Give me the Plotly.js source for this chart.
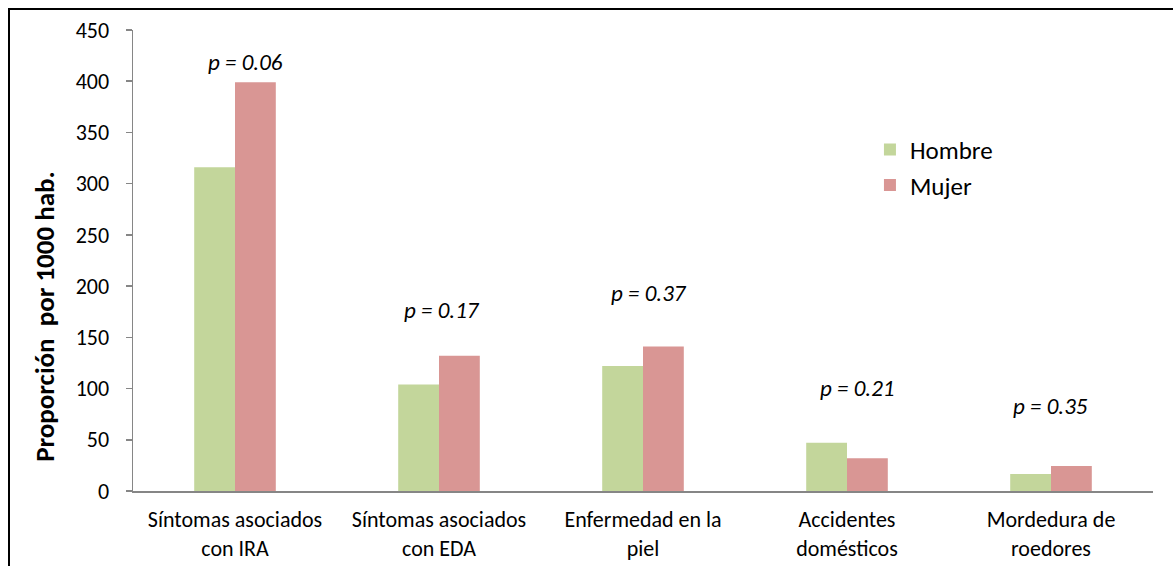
<!DOCTYPE html>
<html>
<head>
<meta charset="utf-8">
<script src="https://cdn.plot.ly/plotly-3.0.1.min.js"></script>
<style>
  html, body { margin: 0; padding: 0; background: #ffffff; }
  #wrap { position: relative; width: 1173px; height: 566px; overflow: hidden; }
  #chart { width: 1173px; height: 566px; }
  #frame { position: absolute; left: 8px; top: 8px; width: 1200px; height: 600px;
           border: 2px solid #000; pointer-events: none; box-sizing: border-box; }
</style>
</head>
<body>
<div id="wrap">
  <div id="chart"></div>
  <div id="frame"></div>
</div>
<script>
const categories = [
  "Síntomas asociados<br>con IRA",
  "Síntomas asociados<br>con EDA",
  "Enfermedad en la<br>piel",
  "Accidentes<br>domésticos",
  "Mordedura de<br>roedores"
];
const hombre = [316, 104, 122, 47, 16.5];
const mujer = [399, 132, 141, 32, 24.5];
const pLabels = ["p = 0.06", "p = 0.17", "p = 0.37", "p = 0.21", "p = 0.35"];
const yTicks = [0, 50, 100, 150, 200, 250, 300, 350, 400, 450];
const yTitle = "Proporción  por 1000 hab.";

const FONT = "Carlito, Calibri, Lato, 'Open Sans', sans-serif";

const traces = [
  { type: "bar", name: "Hombre", x: categories, y: hombre,
    marker: { color: "#C3D69B" }, hoverinfo: "skip" },
  { type: "bar", name: "Mujer", x: categories, y: mujer,
    marker: { color: "#D99694" }, hoverinfo: "skip" }
];

const pY = [419, 177, 193, 101, 83];
const pShift = [10, 3, 6, 10, -1];
const annotations = pLabels.map((t, i) => ({
  x: categories[i], y: pY[i], xref: "x", yref: "y", text: "<i>" + t + "</i>",
  showarrow: false, xshift: pShift[i],
  font: { family: FONT, size: 23, color: "#000" }
}));
annotations.push({
  xref: "paper", yref: "paper", x: -0.0863, y: 0.38,
  xanchor: "center", yanchor: "middle", textangle: -90, showarrow: false,
  text: "<b>" + yTitle + "</b>",
  font: { family: FONT, size: 27, color: "#000" }
});

const layout = {
  width: 1173, height: 566,
  margin: { l: 133, r: 20, t: 30, b: 75 },
  paper_bgcolor: "#ffffff", plot_bgcolor: "#ffffff",
  barmode: "group", bargap: 0.6, bargroupgap: 0,
  font: { family: FONT, size: 22, color: "#000" },
  showlegend: true,
  legend: { x: 0.7225, y: 0.79, xanchor: "left", yanchor: "top",
            font: { family: FONT, size: 25, color: "#000" },
            bgcolor: "rgba(0,0,0,0)", tracegroupgap: 0, itemwidth: 30 },
  xaxis: { type: "category", showline: true, linecolor: "#868686", linewidth: 2,
           ticks: "", showgrid: false, zeroline: false, ticklabelstandoff: 8,
           tickfont: { family: FONT, size: 22, color: "#000" } },
  yaxis: { range: [0, 450], tickvals: yTicks, ticktext: yTicks.map(String),
           showline: true, linecolor: "#868686", linewidth: 1.5,
           ticks: "outside", ticklen: 6, tickcolor: "#868686", tickwidth: 1.5,
           ticklabelstandoff: 12,
           showgrid: false, zeroline: false,
           tickfont: { family: FONT, size: 22, color: "#000" } },
  annotations: annotations
};

Plotly.newPlot("chart", traces, layout, { displayModeBar: false, staticPlot: true });
</script>
</body>
</html>
